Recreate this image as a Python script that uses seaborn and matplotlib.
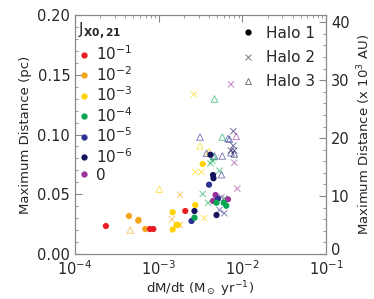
import numpy as np
import pandas as pd
import seaborn as sns
import matplotlib
matplotlib.use("Agg")
import matplotlib.pyplot as plt
import matplotlib.transforms as mtransforms
from matplotlib.lines import Line2D
from matplotlib.ticker import MultipleLocator, LogLocator, NullFormatter

# J_X0,21 levels and colours
levels = ['1e-1', '1e-2', '1e-3', '1e-4', '1e-5', '1e-6', '0']
level_labels = ['10$^{-1}$', '10$^{-2}$', '10$^{-3}$', '10$^{-4}$', '10$^{-5}$', '10$^{-6}$', '0']
level_colors = ['#ed1c24', '#f7a41d', '#ffd200', '#00a650', '#2e3192', '#14145e', '#993399']

# Halo 1 (filled circles)
h1_mdot = [2.34e-4, 4.42e-4, 5.71e-4, 5.75e-4, 6.92e-4, 7.87e-4, 8.63e-4, 1.47e-3, 1.47e-3,
           1.64e-3, 1.70e-3, 2.08e-3, 2.47e-3, 2.68e-3, 2.68e-3, 2.74e-3, 4.0e-3, 4.46e-3,
           4.52e-3, 3.36e-3, 4.16e-3, 4.78e-3, 4.46e-3, 6.74e-3, 5.12e-3, 4.91e-3, 5.99e-3,
           6.43e-3, 4.91e-3]
h1_dist = [0.0234, 0.0318, 0.0279, 0.0285, 0.0209, 0.0209, 0.0209, 0.0349, 0.0205,
           0.0243, 0.0243, 0.0360, 0.0276, 0.0304, 0.0360, 0.0410, 0.0580, 0.0661,
           0.0634, 0.0753, 0.0831, 0.0494, 0.0444, 0.0458, 0.0463, 0.0429, 0.0429,
           0.0404, 0.0326]
h1_j = ['1e-1', '1e-2', '1e-2', '1e-2', '1e-2', '1e-1', '1e-1', '1e-3', '1e-3',
        '1e-3', '1e-3', '1e-1', '1e-5', '1e-4', '1e-6', '1e-3', '1e-5', '1e-6',
        '1e-6', '1e-3', '1e-6', '0', '0', '0', '1e-5', '1e-4', '1e-4',
        '1e-4', '1e-6']

# Halo 2 (crosses)
h2_mdot = [1.80e-3, 1.44e-3, 1.80e-3, 3.51e-3, 2.74e-3, 3.25e-3, 2.64e-3, 3.36e-3, 3.89e-3,
           5.33e-3, 4.16e-3, 4.40e-3, 6.09e-3, 5.63e-3, 8.02e-3, 8.71e-3, 7.31e-3, 5.33e-3,
           6.09e-3, 7.80e-3, 7.80e-3, 7.31e-3, 8.02e-3]
h2_dist = [0.0496, 0.0290, 0.0245, 0.0301, 0.0686, 0.0686, 0.1337, 0.0502, 0.0429,
           0.0697, 0.0759, 0.0781, 0.0466, 0.0475, 0.0764, 0.0547, 0.1419, 0.0368,
           0.0341, 0.1027, 0.0906, 0.0866, 0.0866]
h2_j = ['1e-2', '1e-2', '1e-2', '1e-3', '1e-3', '1e-3', '1e-3', '1e-4', '1e-4',
        '1e-4', '1e-4', '1e-4', '1e-4', '0', '0', '0', '0', '1e-5',
        '1e-5', '1e-6', '1e-6', '1e-6', '1e-6']

# Halo 3 (open triangles)
h3_mdot = [4.58e-4, 1.018e-3, 3.12e-3, 4.0e-3, 3.12e-3, 5.76e-3, 4.65e-3, 6.74e-3, 7.03e-3,
           8.47e-3, 3.73e-3, 4.65e-3, 5.76e-3, 7.31e-3, 8.02e-3, 4.52e-3, 5.63e-3]
h3_dist = [0.0201, 0.0542, 0.0904, 0.0856, 0.0979, 0.0979, 0.1297, 0.0967, 0.0961,
           0.0985, 0.0843, 0.0820, 0.0820, 0.0848, 0.0837, 0.0814, 0.0664]
h3_j = ['1e-2', '1e-3', '1e-3', '1e-3', '1e-5', '1e-4', '1e-4', '1e-5', '1e-5',
        '0', '1e-5', '1e-5', '1e-5', '1e-5', '1e-6', '1e-4', '1e-5']

palette = dict(zip(levels, level_colors))

h1 = pd.DataFrame({'mdot': h1_mdot, 'dist': h1_dist, 'J': h1_j})
h2 = pd.DataFrame({'mdot': h2_mdot, 'dist': h2_dist, 'J': h2_j})
h3 = pd.DataFrame({'mdot': h3_mdot, 'dist': h3_dist, 'J': h3_j})

sns.set_style("white")
plt.rcParams['font.family'] = ['DejaVu Sans']
plt.rcParams['mathtext.default'] = 'regular'

fig = plt.figure(figsize=(3.74, 2.99), dpi=100)
ax = fig.add_axes([0.2005, 0.1505, 0.6712, 0.7993])

sns.scatterplot(data=h3, x='mdot', y='dist', hue='J', palette=palette, marker='^',
                s=22, linewidth=0.7, alpha=0.6, legend=False, ax=ax)
coll = ax.collections[-1]
coll.set_edgecolors(coll.get_facecolors())
coll.set_facecolor('none')

sns.scatterplot(data=h2, x='mdot', y='dist', hue='J', palette=palette, marker='x',
                s=20, linewidth=0.7, alpha=0.6, legend=False, ax=ax)
sns.scatterplot(data=h1, x='mdot', y='dist', hue='J', palette=palette, marker='o',
                s=20, linewidth=0, legend=False, ax=ax)

ax.set_xscale('log')
ax.set_xlim(1e-4, 1e-1)
ax.set_ylim(0, 0.2)
ax.yaxis.set_minor_locator(MultipleLocator(0.01))
ax.xaxis.set_minor_locator(LogLocator(base=10, subs=np.arange(2, 10)))
ax.xaxis.set_minor_formatter(NullFormatter())
ax.set_yticks([0, 0.05, 0.10, 0.15, 0.20])
ax.set_yticklabels(['0.00', '0.05', '0.10', '0.15', '0.20'])
ax.tick_params(which='both', direction='in', top=True, labelsize=10.5, color='#888888')
ax.tick_params(which='major', length=5, width=0.8)
ax.tick_params(which='minor', length=2.5, width=0.6)
ax.tick_params(axis='x', pad=4)
for sp in ax.spines.values():
    sp.set_color('#888888')
ax.set_xlabel('dM/dt (M$_\\odot$ yr$^{-1}$)', fontsize=9.5, labelpad=1)
ax.set_ylabel('Maximum Distance (pc)', fontsize=9.5, labelpad=4)

# right axis in 10^3 AU
pc_to_kau = 206.265
ax2 = ax.twinx()
ax2.set_ylim(0, 0.2 * pc_to_kau)
ax2.yaxis.set_major_locator(MultipleLocator(10))
ax2.yaxis.set_minor_locator(MultipleLocator(2))
ax2.tick_params(which='both', direction='in', labelsize=10.5, color='#888888')
ax2.tick_params(which='major', length=5, width=0.8)
ax2.tick_params(which='minor', length=2.5, width=0.6)
for sp in ax2.spines.values():
    sp.set_color('#888888')
ax2.set_ylabel('Maximum Distance (x 10$^3$ AU)', fontsize=9.5, labelpad=4)

# lift the right-hand "0" a little so it clears the 10^-1 label
fig.canvas.draw()
zero_lbl = ax2.get_yticklabels()[0]
for t in ax2.yaxis.get_major_ticks():
    if abs(t.get_loc()) < 1e-9:
        t.label2.set_transform(t.label2.get_transform() +
                               mtransforms.ScaledTranslation(0, 5 / 100, fig.dpi_scale_trans))

# legends
j_handles = [Line2D([], [], marker='o', ls='', color=c, markersize=3.5) for c in level_colors]
leg1 = ax2.legend(j_handles, level_labels, loc='upper left', frameon=False,
                  title='J$_{\\mathbf{X0,21}}$', title_fontsize=11, fontsize=11,
                  handlelength=0.8, handletextpad=0.4, labelspacing=0.12,
                  borderaxespad=0.0, borderpad=0.2, bbox_to_anchor=(0.0, 0.987))
leg1._legend_box.align = 'left'
ax2.add_artist(leg1)

halo_handles = [Line2D([], [], marker='o', ls='', color='black', markersize=3.5),
                Line2D([], [], marker='x', ls='', color='#777777', markersize=4, mew=0.7),
                Line2D([], [], marker='^', ls='', color='#777777', markersize=4,
                       mfc='none', mew=0.7)]
ax2.legend(halo_handles, ['Halo 1', 'Halo 2', 'Halo 3'], loc='upper right', frameon=False,
           fontsize=11, handlelength=0.8, handletextpad=0.8, labelspacing=0.6,
           borderaxespad=0.3)

fig.savefig('out.png', dpi=100)
